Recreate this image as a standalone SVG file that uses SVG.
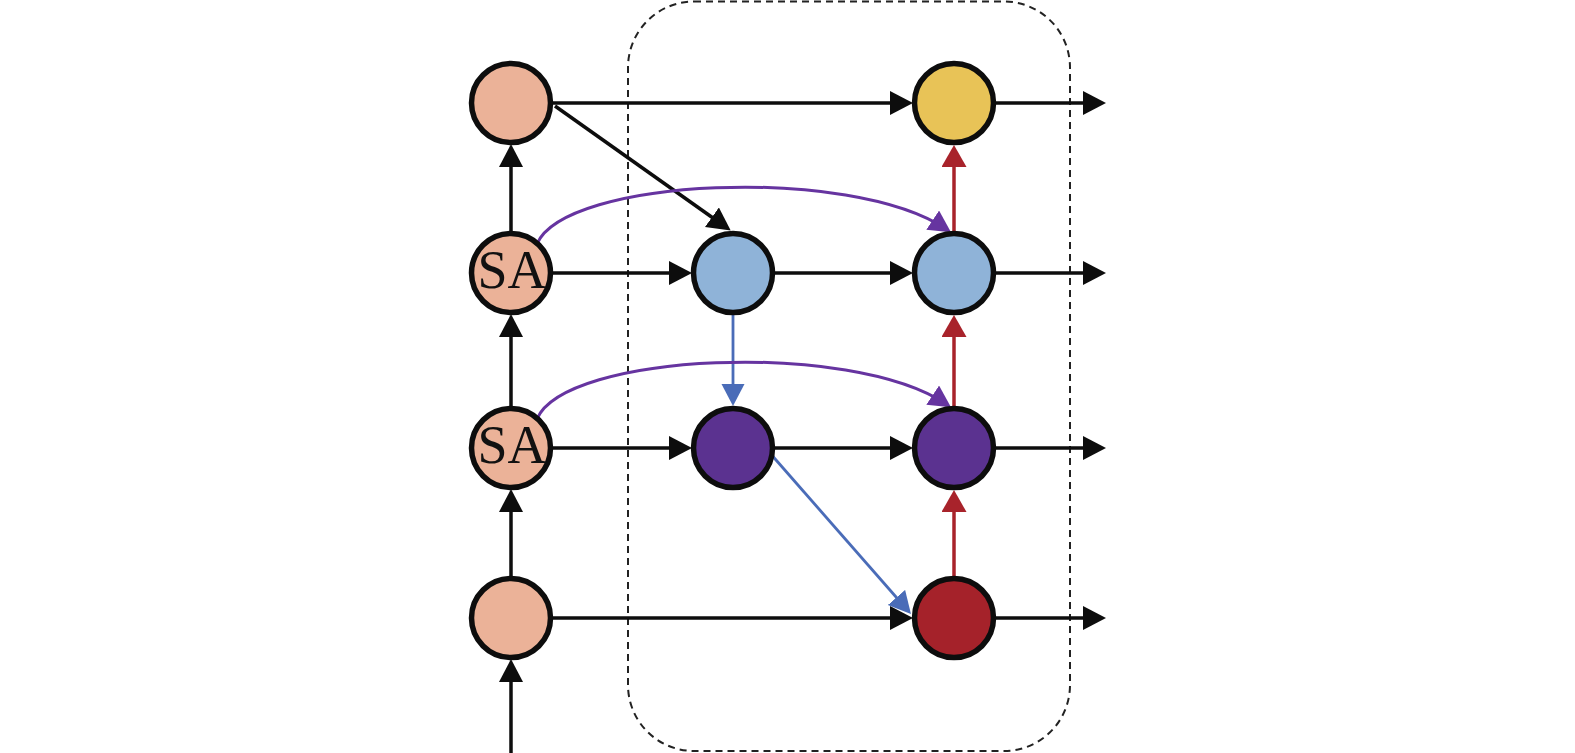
<svg xmlns="http://www.w3.org/2000/svg" width="1575" height="753" viewBox="0 0 1575 753">
<style>
.n{stroke:#0d0d0d;stroke-width:5.5}
.k{stroke:#0d0d0d;stroke-width:3.5;fill:none}
.b{stroke:#4a6cb8;stroke-width:2.8;fill:none}
.p{stroke:#6634a0;stroke-width:3;fill:none}
.r{stroke:#a8232b;stroke-width:3.5;fill:none}
.sa{font-family:"Liberation Serif","Times New Roman",serif;font-size:54px;fill:#111}
</style>
<defs>
<marker id="ak" markerUnits="userSpaceOnUse" markerWidth="24" markerHeight="26" refX="16" refY="12" orient="auto"><path d="M0,0 L23,12 L0,24 z" fill="#0d0d0d"/></marker>
<marker id="ab" markerUnits="userSpaceOnUse" markerWidth="24" markerHeight="26" refX="16" refY="11.5" orient="auto"><path d="M0,0 L22,11.5 L0,23 z" fill="#4a6cb8"/></marker>
<marker id="ap" markerUnits="userSpaceOnUse" markerWidth="24" markerHeight="26" refX="16" refY="11.5" orient="auto"><path d="M0,0 L22,11.5 L0,23 z" fill="#6634a0"/></marker>
<marker id="ar" markerUnits="userSpaceOnUse" markerWidth="24" markerHeight="28" refX="16" refY="12.5" orient="auto"><path d="M0,0 L22,12.5 L0,25 z" fill="#a8232b"/></marker>
</defs>
<rect width="1575" height="753" fill="#fff"/>
<rect id="group-box" x="628" y="1.5" width="442" height="749.5" rx="66" ry="66" fill="none" stroke="#222" stroke-width="2" stroke-dasharray="7 5"/>
<g id="connectors">
<line class="k" x1="553" y1="103" x2="906" y2="103" marker-end="url(#ak)"/>
<line class="k" x1="996" y1="103" x2="1099" y2="103" marker-end="url(#ak)"/>
<line class="k" x1="553" y1="273" x2="685" y2="273" marker-end="url(#ak)"/>
<line class="k" x1="775" y1="273" x2="906" y2="273" marker-end="url(#ak)"/>
<line class="k" x1="996" y1="273" x2="1099" y2="273" marker-end="url(#ak)"/>
<line class="k" x1="553" y1="448" x2="685" y2="448" marker-end="url(#ak)"/>
<line class="k" x1="775" y1="448" x2="906" y2="448" marker-end="url(#ak)"/>
<line class="k" x1="996" y1="448" x2="1099" y2="448" marker-end="url(#ak)"/>
<line class="k" x1="553" y1="618" x2="906" y2="618" marker-end="url(#ak)"/>
<line class="k" x1="996" y1="618" x2="1099" y2="618" marker-end="url(#ak)"/>
<line class="k" x1="511" y1="753" x2="511" y2="666" marker-end="url(#ak)"/>
<line class="k" x1="511" y1="576" x2="511" y2="496" marker-end="url(#ak)"/>
<line class="k" x1="511" y1="406" x2="511" y2="321" marker-end="url(#ak)"/>
<line class="k" x1="511" y1="231" x2="511" y2="151" marker-end="url(#ak)"/>
<line class="k" x1="555" y1="106" x2="725" y2="226.5" marker-end="url(#ak)"/>
<line class="r" x1="954" y1="576" x2="954" y2="496" marker-end="url(#ar)"/>
<line class="r" x1="954" y1="406" x2="954" y2="321" marker-end="url(#ar)"/>
<line class="r" x1="954" y1="231" x2="954" y2="151" marker-end="url(#ar)"/>
<line class="b" x1="733" y1="315" x2="733" y2="400" marker-end="url(#ab)"/>
<line class="b" x1="769" y1="452" x2="907" y2="609.5" marker-end="url(#ab)"/>
<path class="p" d="M537,244 C565,178 850,165 946,229" marker-end="url(#ap)"/>
<path class="p" d="M537,419 C565,353 850,340 946,404" marker-end="url(#ap)"/>
</g>
<g id="node-in4"><circle class="n" cx="511" cy="103" r="39.5" fill="#ebb298"/></g>
<g id="node-sa1"><circle class="n" cx="511" cy="273" r="39.5" fill="#ebb298"/><text class="sa" x="512" y="288" text-anchor="middle">SA</text></g>
<g id="node-sa2"><circle class="n" cx="511" cy="448" r="39.5" fill="#ebb298"/><text class="sa" x="512" y="463" text-anchor="middle">SA</text></g>
<g id="node-in1"><circle class="n" cx="511" cy="618" r="39.5" fill="#ebb298"/></g>
<g id="node-blue1"><circle class="n" cx="733" cy="273" r="39.5" fill="#8fb3d8"/></g>
<g id="node-purple1"><circle class="n" cx="733" cy="448" r="39.5" fill="#5b3290"/></g>
<g id="node-yellow"><circle class="n" cx="954" cy="103" r="39.5" fill="#e8c357"/></g>
<g id="node-blue2"><circle class="n" cx="954" cy="273" r="39.5" fill="#8fb3d8"/></g>
<g id="node-purple2"><circle class="n" cx="954" cy="448" r="39.5" fill="#5b3290"/></g>
<g id="node-red"><circle class="n" cx="954" cy="618" r="39.5" fill="#a5222a"/></g>
</svg>
